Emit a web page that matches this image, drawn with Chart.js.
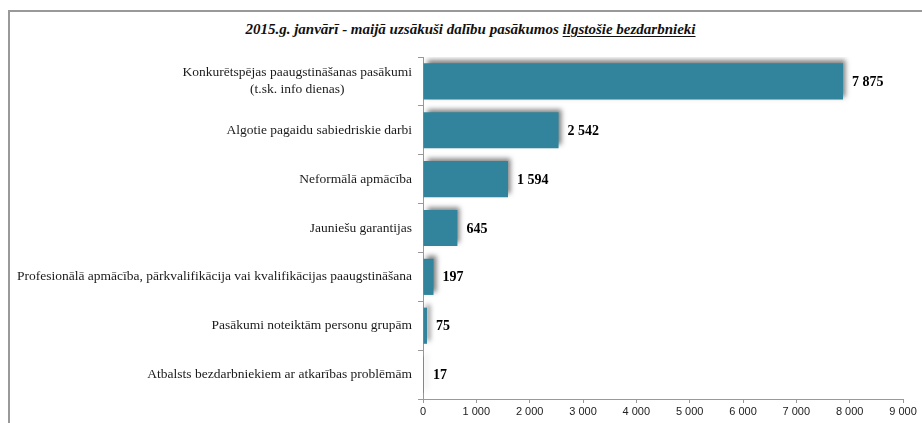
<!DOCTYPE html>
<html>
<head>
<meta charset="utf-8">
<script src="https://cdn.jsdelivr.net/npm/chart.js@4.4.1/dist/chart.umd.min.js"></script>
<style>
  html, body { margin: 0; padding: 0; background: #fff; }
  #wrap { position: relative; width: 922px; height: 423px; overflow: hidden; }
  #frame {
    position: absolute; left: 8px; top: 10px; width: 930px; height: 430px;
    border-top: 2px solid #999; border-left: 2px solid #999; box-sizing: border-box;
  }
  #title {
    position: absolute; left: 0; top: 21px; width: 941px; text-align: center;
    font: italic bold 15px "Liberation Serif", "Times New Roman", serif; color: #111;
  }
  #title u { text-decoration-thickness: 1px; text-underline-offset: 2px; }
  canvas { position: absolute; left: 0; top: 0; }
</style>
</head>
<body>
<div id="wrap">
  <div id="frame"></div>
  <div id="title">2015.g. janvārī - maijā uzsākuši dalību pasākumos <u>ilgstošie bezdarbnieki</u></div>
  <canvas id="barChart" width="922" height="423"></canvas>
</div>
<script>
  // categories (top to bottom) and values
  const categories = [
    ["Konkurētspējas paaugstināšanas pasākumi", "(t.sk. info dienas)"],
    ["Algotie pagaidu sabiedriskie darbi"],
    ["Neformālā apmācība"],
    ["Jauniešu garantijas"],
    ["Profesionālā apmācība, pārkvalifikācija vai kvalifikācijas paaugstināšana"],
    ["Pasākumi noteiktām personu grupām"],
    ["Atbalsts bezdarbniekiem ar atkarības problēmām"]
  ];
  const values = [7875, 2542, 1594, 645, 197, 75, 17];
  const xMax = 9000;
  const xStep = 1000;

  const fmt = v => String(v).replace(/\B(?=(\d{3})+(?!\d))/g, " ");

  // shadow under the bars
  const barShadow = {
    id: 'barShadow',
    beforeDatasetDraw(chart) {
      const c = chart.ctx;
      c.save();
      c.shadowColor = 'rgba(0,0,0,0.5)';
      c.shadowBlur = 5;
      c.shadowOffsetX = 3;
      c.shadowOffsetY = -3;
    },
    afterDatasetDraw(chart) {
      chart.ctx.restore();
    }
  };

  // category names left of the axis, and value labels after the bars
  const labelsPlugin = {
    id: 'labelsPlugin',
    afterDraw(chart) {
      const c = chart.ctx;
      const yScale = chart.scales.y;
      const meta = chart.getDatasetMeta(0);
      c.save();
      c.fillStyle = '#1a1a1a';
      c.textBaseline = 'middle';
      c.font = '13.5px "Liberation Serif", "Times New Roman", serif';
      const right = yScale.right - 11;
      categories.forEach((lines, i) => {
        const y = yScale.getPixelForValue(i);
        const widest = Math.max(...lines.map(l => c.measureText(l).width));
        const cx = right - widest / 2;
        const lh = 17;
        lines.forEach((l, j) => {
          c.textAlign = 'center';
          c.fillText(l, cx, y + (j - (lines.length - 1) / 2) * lh);
        });
      });
      c.font = 'bold 14px "Liberation Serif", "Times New Roman", serif';
      c.textAlign = 'left';
      c.fillStyle = '#000';
      meta.data.forEach((bar, i) => {
        c.fillText(fmt(values[i]), bar.x + 9, bar.y + 1);
      });
      c.restore();
    }
  };

  new Chart(document.getElementById('barChart'), {
    type: 'bar',
    data: {
      labels: categories.map(l => l.join(' ')),
      datasets: [{
        data: values,
        backgroundColor: '#31849b',
        barPercentage: 0.74,
        categoryPercentage: 1
      }]
    },
    options: {
      indexAxis: 'y',
      responsive: false,
      animation: false,
      layout: { padding: { top: 57, right: 19, left: 0, bottom: 0 } },
      plugins: { legend: { display: false }, tooltip: { enabled: false }, title: { display: false } },
      scales: {
        x: {
          min: 0,
          max: xMax,
          ticks: {
            stepSize: xStep,
            color: '#222',
            padding: 2,
            font: { family: '"Liberation Sans", Arial, sans-serif', size: 11 },
            callback: v => fmt(v)
          },
          grid: { drawOnChartArea: false, drawTicks: true, tickLength: 4, color: '#999' },
          border: { color: '#999' },
          afterFit: s => { s.height = 24; }
        },
        y: {
          ticks: { display: false },
          grid: { drawOnChartArea: false, drawTicks: true, tickLength: 5, color: '#999', offset: true },
          border: { color: '#999' },
          afterFit: s => { s.width = 423; }
        }
      }
    },
    plugins: [barShadow, labelsPlugin]
  });
</script>
</body>
</html>
